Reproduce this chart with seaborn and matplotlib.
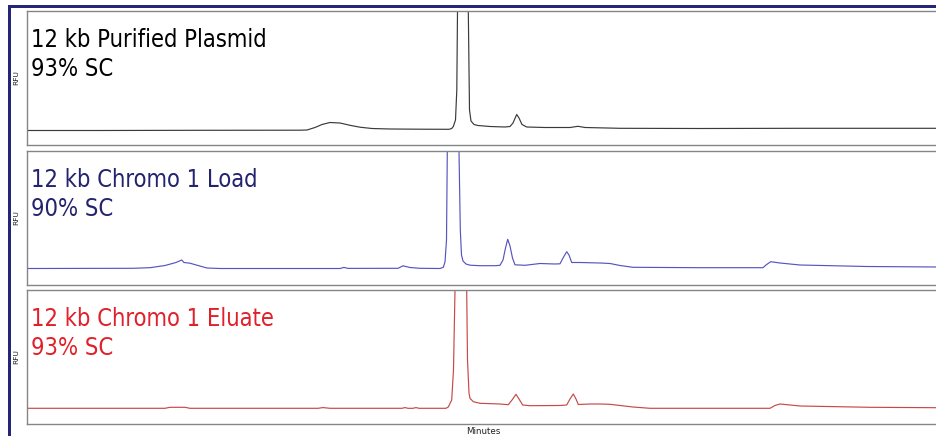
import matplotlib
matplotlib.use("Agg")
import matplotlib.pyplot as plt
import seaborn as sns
import pandas as pd
from matplotlib.patches import Rectangle

sns.set_style("white")
plt.rcParams['font.family'] = ['DejaVu Sans']

# ---- data (time in arbitrary run units, signal in RFU units) ----
time_plasmid = [0, 73, 173, 273, 280, 288, 295, 303, 313, 323, 333, 345, 363, 393, 422,
                424.7, 426.3, 428.5, 429.8, 430.5, 435.8, 441.3, 442.5, 444, 447, 451, 463,
                478, 483, 486, 489.7, 492, 495, 499.7, 518, 543, 551, 558, 593, 673, 773, 909, 918]
rfu_plasmid = [14.5, 14.5, 14.7, 14.8, 15, 17.5, 20.5, 22.5, 22, 19.7, 17.8, 16.5, 16, 15.8, 15.7,
               16.5, 18.5, 25, 55, 134, 600, 134, 35, 24, 20.5, 19.5, 18.5,
               18, 18.5, 22, 30.5, 27, 20.5, 18, 17.5, 17.5, 18.7, 17.5, 16.7, 16.5, 16.7, 16.7, 16.7]

time_load = [0, 106, 123, 138, 149, 154.7, 157, 163, 171, 180, 193, 313, 317, 321, 371, 376, 383,
             393, 413, 416.3, 418, 419.5, 420.3, 426.2, 432, 433.3, 434.5, 436, 439, 443, 453,
             468, 473, 476, 478.5, 480.7, 483, 485.5, 488, 498, 513, 528, 533, 536, 539.7, 542,
             544.7, 553, 573, 583, 593, 606, 673, 736, 739, 743.7, 753, 773, 840, 909, 918]
rfu_load = [16.5, 16.7, 17.3, 19.5, 22.5, 25, 22.5, 21.8, 19.5, 17, 16.5, 16.5, 17.6, 16.6, 16.7, 19.2, 17.5,
            16.7, 16.5, 17.7, 23, 45, 134, 600, 134, 55, 30, 24, 21, 19.8, 19.3,
            19.3, 19.7, 25, 37, 45.7, 39, 27, 20.2, 19.7, 21.5, 21, 21.2, 27, 33.3, 30,
            22.5, 22.5, 22, 21.5, 19.5, 17.7, 17.3, 17.3, 20, 23.3, 22, 20, 18.5, 18, 18]

time_eluate = [0, 138, 143, 158, 163, 291, 296, 303, 375, 378, 381, 386, 389, 392, 419, 421.3,
               424.7, 426.5, 428, 433.8, 439.7, 440.5, 442, 443, 446.3, 453, 473, 481.3, 485, 489,
               492, 495.7, 503, 533, 539.7, 543, 546.3, 549, 551.3, 563, 573, 583, 593, 606, 623,
               743, 748, 753, 763, 773, 843, 909, 918]
rfu_eluate = [15.7, 15.7, 16.7, 16.7, 15.7, 15.7, 16.4, 15.7, 15.7, 16.4, 15.7, 15.7, 16.4, 15.7, 15.7, 17,
              24, 54, 134, 600, 134, 64, 31, 25.7, 22.3, 20.7, 20, 19.3, 24, 29.7,
              25, 19, 18.3, 18.5, 19, 25, 30, 25, 19.5, 20, 20, 19.7, 18.5, 17, 15.7,
              15.7, 18.5, 20, 19, 18, 16.7, 16.3, 16.3]

labels_line1 = ["12 kb Purified Plasmid", "12 kb Chromo 1 Load", "12 kb Chromo 1 Eluate"]
labels_line2 = ["93% SC", "90% SC", "93% SC"]
text_colors = ["#000000", "#23236e", "#e0202a"]
line_colors = ["#3a3a3a", "#5555c0", "#c84848"]

series = [(time_plasmid, rfu_plasmid), (time_load, rfu_load), (time_eluate, rfu_eluate)]

W, H = 936, 436
fig = plt.figure(figsize=(W / 100, H / 100), dpi=100)
fig.patch.set_facecolor("white")

panel_tops = [11, 151, 290]
panel_h = 134
left_px = 27
xmax = 913

for i, ((t, r), top) in enumerate(zip(series, panel_tops)):
    bottom = top + panel_h
    ax = fig.add_axes([left_px / W, 1 - bottom / H, xmax / W, panel_h / H])
    df = pd.DataFrame({"time": t, "rfu": r})
    sns.lineplot(data=df, x="time", y="rfu", ax=ax, color=line_colors[i],
                 linewidth=0.85, estimator=None, sort=False)
    ax.set_xlim(0, xmax)
    ax.set_ylim(0, panel_h)
    ax.set_xticks([])
    ax.set_yticks([])
    ax.set_xlabel("")
    ax.set_ylabel("")
    for s in ax.spines.values():
        s.set_color("#858585")
        s.set_linewidth(1.0)
    fig.text(31 / W, 1 - (top + 35.7) / H, labels_line1[i], color=text_colors[i],
             fontsize=17, fontstretch="condensed", va="baseline", ha="left")
    fig.text(31 / W, 1 - (top + 65.2) / H, labels_line2[i], color=text_colors[i],
             fontsize=17, fontstretch="condensed", va="baseline", ha="left")
    fig.text(16.7 / W, 1 - (top + 67) / H, "RFU", rotation=90, fontsize=5.4,
             ha="center", va="center", color="#222222")

fig.text(483 / W, 1 - 431 / H, "Minutes", fontsize=6.3, ha="center", va="center", color="#222222")

navy = "#25267a"
fig.add_artist(Rectangle((8 / W, 0), 3 / W, (H - 5) / H, transform=fig.transFigure,
                         facecolor=navy, edgecolor="none"))
fig.add_artist(Rectangle((8 / W, 1 - 8.3 / H), (W - 8) / W, 3.3 / H, transform=fig.transFigure,
                         facecolor=navy, edgecolor="none"))

fig.savefig("out.png", dpi=100, facecolor="white")
